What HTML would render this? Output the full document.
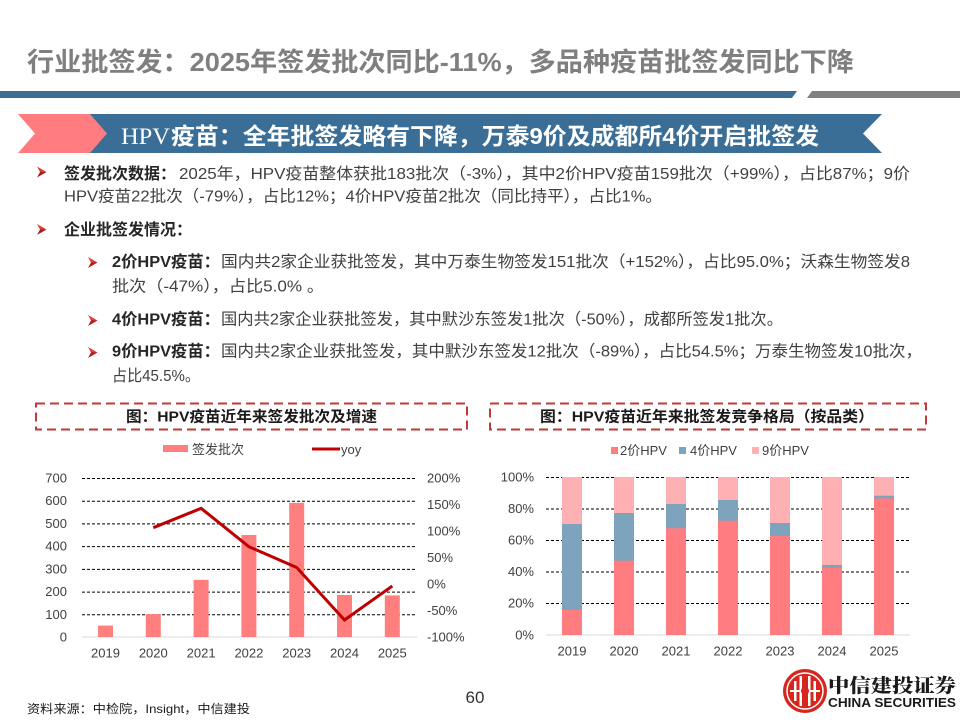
<!DOCTYPE html>
<html><head><meta charset="utf-8"><style>
html,body{margin:0;padding:0;background:#fff;}
svg{display:block;}
text{font-family:"Liberation Sans","Noto Sans CJK SC",sans-serif;}
</style></head><body>
<svg width="960" height="720" viewBox="0 0 960 720" xmlns="http://www.w3.org/2000/svg">
<rect width="960" height="720" fill="#fff"/>

<!-- Title -->
<text x="27" y="71" font-size="26" font-weight="bold" fill="#7f7f7f" textLength="827" lengthAdjust="spacingAndGlyphs">行业批签发：2025年签发批次同比-11%，多品种疫苗批签发同比下降</text>
<polygon points="0,91 797,91 792,98 0,98" fill="#3a6e96"/>
<polygon points="812,91 960,91 960,98 807,98" fill="#808080"/>

<!-- Banner -->
<polygon points="90,114 882,114 863,133.5 882,153 90,153" fill="#3a6e96"/>
<polygon points="18,114 90,114 107,133.5 90,153 18,153 35,133.5" fill="#ff7c80"/>
<text x="121" y="144" font-size="23" fill="#fff" style="font-family:'Liberation Serif',serif" textLength="49" lengthAdjust="spacingAndGlyphs">HPV</text>
<text x="171" y="144" font-size="23" font-weight="bold" fill="#fff" textLength="648" lengthAdjust="spacingAndGlyphs">疫苗：全年批签发略有下降，万泰9价及成都所4价开启批签发</text>

<!-- Bullets arrows -->
<g>
<polygon points="37,166.5 46.5,172 40,172" fill="#e23a30"/><polygon points="40,172 46.5,172 37,177.5" fill="#a61f1a"/>
<polygon points="37,224 46.5,229.5 40,229.5" fill="#e23a30"/><polygon points="40,229.5 46.5,229.5 37,235" fill="#a61f1a"/>
<polygon points="88,257 97.5,262.5 91,262.5" fill="#e23a30"/><polygon points="91,262.5 97.5,262.5 88,268" fill="#a61f1a"/>
<polygon points="88,315 97.5,320.5 91,320.5" fill="#e23a30"/><polygon points="91,320.5 97.5,320.5 88,326" fill="#a61f1a"/>
<polygon points="88,347 97.5,352.5 91,352.5" fill="#e23a30"/><polygon points="91,352.5 97.5,352.5 88,358" fill="#a61f1a"/>
</g>

<!-- Body text -->
<g font-size="16">
<text x="64" y="179" font-weight="bold" fill="#262626" textLength="112" lengthAdjust="spacingAndGlyphs">签发批次数据：</text>
<text x="179" y="179" fill="#404040" textLength="731" lengthAdjust="spacingAndGlyphs">2025年，HPV疫苗整体获批183批次（-3%），其中2价HPV疫苗159批次（+99%），占比87%；9价</text>
<text x="64" y="201.5" fill="#404040" textLength="598" lengthAdjust="spacingAndGlyphs">HPV疫苗22批次（-79%），占比12%；4价HPV疫苗2批次（同比持平），占比1%。</text>
<text x="64" y="235" font-weight="bold" fill="#262626" textLength="128" lengthAdjust="spacingAndGlyphs">企业批签发情况：</text>

<text x="112" y="267" font-weight="bold" fill="#262626" textLength="108" lengthAdjust="spacingAndGlyphs">2价HPV疫苗：</text>
<text x="221" y="267" fill="#404040" textLength="689" lengthAdjust="spacingAndGlyphs">国内共2家企业获批签发，其中万泰生物签发151批次（+152%），占比95.0%；沃森生物签发8</text>
<text x="112" y="291.5" fill="#404040" textLength="212" lengthAdjust="spacingAndGlyphs">批次（-47%），占比5.0% 。</text>

<text x="112" y="324.5" font-weight="bold" fill="#262626" textLength="108" lengthAdjust="spacingAndGlyphs">4价HPV疫苗：</text>
<text x="221" y="324.5" fill="#404040" textLength="562" lengthAdjust="spacingAndGlyphs">国内共2家企业获批签发，其中默沙东签发1批次（-50%），成都所签发1批次。</text>

<text x="112" y="356.5" font-weight="bold" fill="#262626" textLength="108" lengthAdjust="spacingAndGlyphs">9价HPV疫苗：</text>
<text x="221" y="356.5" fill="#404040" textLength="701" lengthAdjust="spacingAndGlyphs">国内共2家企业获批签发，其中默沙东签发12批次（-89%），占比54.5%；万泰生物签发10批次，</text>
<text x="112" y="381" fill="#404040" textLength="88" lengthAdjust="spacingAndGlyphs">占比45.5%。</text>
</g>

<!-- Chart title boxes -->
<rect x="36" y="403.5" width="431" height="26" fill="none" stroke="#c0393b" stroke-width="2" stroke-dasharray="9 5"/>
<text x="126" y="421.5" font-size="15" font-weight="bold" fill="#1a1a1a" textLength="251" lengthAdjust="spacingAndGlyphs">图：HPV疫苗近年来签发批次及增速</text>
<rect x="490" y="403.5" width="436" height="26" fill="none" stroke="#c0393b" stroke-width="2" stroke-dasharray="9 5"/>
<text x="540" y="421.5" font-size="15" font-weight="bold" fill="#1a1a1a" textLength="334" lengthAdjust="spacingAndGlyphs">图：HPV疫苗近年来批签发竞争格局（按品类）</text>

<!-- LEFT CHART -->
<g font-size="13" fill="#404040">
<rect x="163" y="445" width="25" height="7" fill="#ff7f7f"/>
<text x="192" y="454">签发批次</text>
<line x1="312" y1="449" x2="340" y2="449" stroke="#c00000" stroke-width="3"/>
<text x="341" y="454">yoy</text>
</g>
<g stroke="#000" stroke-width="1" stroke-dasharray="3 2">
<line x1="82" y1="478.5" x2="417" y2="478.5"/>
<line x1="82" y1="501.2" x2="417" y2="501.2"/>
<line x1="82" y1="523.9" x2="417" y2="523.9"/>
<line x1="82" y1="546.6" x2="417" y2="546.6"/>
<line x1="82" y1="569.4" x2="417" y2="569.4"/>
<line x1="82" y1="592.1" x2="417" y2="592.1"/>
<line x1="82" y1="614.8" x2="417" y2="614.8"/>
</g>
<line x1="82" y1="637" x2="417" y2="637" stroke="#d9d9d9" stroke-width="1"/>
<g fill="#ff7f7f">
<rect x="98" y="625.6" width="15" height="11.4"/>
<rect x="145.8" y="614.1" width="15" height="22.9"/>
<rect x="193.6" y="579.8" width="15" height="57.2"/>
<rect x="241.4" y="535" width="15" height="102"/>
<rect x="289.2" y="502.8" width="15" height="134.2"/>
<rect x="337" y="595" width="15" height="42"/>
<rect x="384.8" y="595.4" width="15" height="41.6"/>
</g>
<polyline points="153.3,527.7 201.1,508.3 248.9,546.7 296.7,567.5 344.5,620 392.3,586" fill="none" stroke="#c00000" stroke-width="3" stroke-linejoin="miter"/>
<g font-size="13" fill="#404040" text-anchor="end">
<text x="67" y="482.5">700</text>
<text x="67" y="505.2">600</text>
<text x="67" y="527.9">500</text>
<text x="67" y="550.6">400</text>
<text x="67" y="573.4">300</text>
<text x="67" y="596.1">200</text>
<text x="67" y="618.8">100</text>
<text x="67" y="641.5">0</text>
</g>
<g font-size="13" fill="#404040">
<text x="427" y="482.5">200%</text>
<text x="427" y="509">150%</text>
<text x="427" y="535.5">100%</text>
<text x="427" y="562">50%</text>
<text x="427" y="588.5">0%</text>
<text x="427" y="615">-50%</text>
<text x="427" y="641.5">-100%</text>
</g>
<g font-size="13" fill="#404040" text-anchor="middle">
<text x="105.5" y="657.5">2019</text>
<text x="153.3" y="657.5">2020</text>
<text x="201.1" y="657.5">2021</text>
<text x="248.9" y="657.5">2022</text>
<text x="296.7" y="657.5">2023</text>
<text x="344.5" y="657.5">2024</text>
<text x="392.3" y="657.5">2025</text>
</g>

<!-- RIGHT CHART -->
<g font-size="13" fill="#404040">
<rect x="611" y="447" width="7" height="7" fill="#ff7c80"/>
<text x="620" y="455">2价HPV</text>
<rect x="679" y="447" width="7" height="7" fill="#7ea3bd"/>
<text x="690" y="455">4价HPV</text>
<rect x="752" y="447" width="7" height="7" fill="#ffb0b3"/>
<text x="762" y="455">9价HPV</text>
</g>
<g stroke="#000" stroke-width="1" stroke-dasharray="3 2">
<line x1="546" y1="477.5" x2="910" y2="477.5"/>
<line x1="546" y1="509" x2="910" y2="509"/>
<line x1="546" y1="540.5" x2="910" y2="540.5"/>
<line x1="546" y1="572" x2="910" y2="572"/>
<line x1="546" y1="603.5" x2="910" y2="603.5"/>
</g>
<line x1="546" y1="635" x2="910" y2="635" stroke="#d9d9d9" stroke-width="1"/>
<g fill="#ffb0b3">
<rect x="562" y="477" width="20" height="158"/>
<rect x="614" y="477" width="20" height="158"/>
<rect x="666" y="477" width="20" height="158"/>
<rect x="718" y="477" width="20" height="158"/>
<rect x="770" y="477" width="20" height="158"/>
<rect x="822" y="477" width="20" height="158"/>
<rect x="874" y="477" width="20" height="158"/>
</g>
<g fill="#7ea3bd">
<rect x="562" y="524" width="20" height="111"/>
<rect x="614" y="513" width="20" height="122"/>
<rect x="666" y="504" width="20" height="131"/>
<rect x="718" y="500" width="20" height="135"/>
<rect x="770" y="523" width="20" height="112"/>
<rect x="822" y="565" width="20" height="70"/>
<rect x="874" y="495.7" width="20" height="139.3"/>
</g>
<g fill="#ff7c80">
<rect x="562" y="610" width="20" height="25"/>
<rect x="614" y="560.7" width="20" height="74.3"/>
<rect x="666" y="528.3" width="20" height="106.7"/>
<rect x="718" y="520.7" width="20" height="114.3"/>
<rect x="770" y="535.7" width="20" height="99.3"/>
<rect x="822" y="567.7" width="20" height="67.3"/>
<rect x="874" y="498.3" width="20" height="136.7"/>
</g>
<g font-size="13" fill="#404040" text-anchor="end">
<text x="534" y="481.5">100%</text>
<text x="534" y="513">80%</text>
<text x="534" y="544.5">60%</text>
<text x="534" y="576">40%</text>
<text x="534" y="607.5">20%</text>
<text x="534" y="639.5">0%</text>
</g>
<g font-size="13" fill="#404040" text-anchor="middle">
<text x="572" y="655.5">2019</text>
<text x="624" y="655.5">2020</text>
<text x="676" y="655.5">2021</text>
<text x="728" y="655.5">2022</text>
<text x="780" y="655.5">2023</text>
<text x="832" y="655.5">2024</text>
<text x="884" y="655.5">2025</text>
</g>

<!-- Footer -->
<text x="27" y="713" font-size="12" fill="#1a1a1a" textLength="223" lengthAdjust="spacingAndGlyphs">资料来源：中检院，Insight，中信建投</text>
<text x="475" y="703" font-size="17" fill="#333" text-anchor="middle">60</text>

<!-- Logo -->
<circle cx="805" cy="691" r="22" fill="#d7261e"/>
<circle cx="805" cy="691" r="18" fill="none" stroke="#fff" stroke-width="1.5"/>
<g fill="#fff">
<rect x="794" y="681" width="2.5" height="20"/>
<rect x="813.5" y="681" width="2.5" height="20"/>
<rect x="799.5" y="676" width="2.5" height="30"/>
<rect x="808" y="676" width="2.5" height="30"/>
<rect x="790" y="690" width="30" height="2"/>
</g>
<circle cx="805" cy="691" r="4" fill="#d7261e"/>
<text x="828" y="692" font-size="19" font-weight="900" fill="#1a1a1a" style="font-family:'Noto Serif CJK SC','Noto Sans CJK SC',serif" textLength="128" lengthAdjust="spacingAndGlyphs">中信建投证券</text>
<text x="828" y="707" font-size="13" font-weight="bold" fill="#1a1a1a" textLength="128" lengthAdjust="spacingAndGlyphs">CHINA SECURITIES</text>
</svg>
</body></html>
